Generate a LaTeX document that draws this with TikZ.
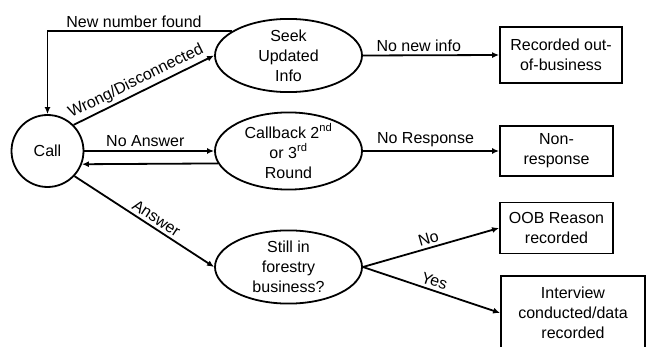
\documentclass[tikz,border=0pt]{standalone}
\usepackage{fontspec}
\setmainfont{Liberation Sans}
\usetikzlibrary{shapes.geometric,arrows.meta}
\begin{document}
\begin{tikzpicture}[x=1pt,y=-1pt,
  font=\fontsize{16}{20}\selectfont,
  line width=1.8pt,
  arr/.style={-{Latex[length=7pt,width=6pt]}},
  oval/.style={ellipse, draw, minimum width=147pt, minimum height=69pt, inner sep=0pt, align=center},
  box/.style={rectangle, draw, inner sep=0pt, align=center},
  lbl/.style={inner sep=3pt}]
\useasboundingbox (0,0) rectangle (647,347);
% nodes
\node[circle,draw,minimum size=72pt,inner sep=0pt] (call) at (47.5,151) {Call};
\node[oval] (seek) at (288.5,55.5) {Seek\\Updated\\Info};
\node[oval, minimum height=70pt] (cb) at (288.5,151) {Callback 2\textsuperscript{nd}\\or 3\textsuperscript{rd}\\Round};
\node[oval, minimum height=70pt] (still) at (288.5,267) {Still in\\forestry\\business?};
\node[box, minimum width=122pt, minimum height=56pt] (rec) at (561,55) {Recorded out-\\of-business};
\node[box, minimum width=113pt, minimum height=50pt] (nr) at (556.5,151) {Non-\\response};
\node[box, minimum width=113pt, minimum height=51pt] (oob) at (556.5,228) {OOB Reason\\recorded};
\node[box, minimum width=144pt, minimum height=74pt] (int) at (573,313) {Interview\\conducted/data\\recorded};
% connectors
\draw[arr] (seek.157) -| node[lbl, pos=0.265, above] (lnew) {New number found} (call.north);
\draw[arr] (call.45) -- node[lbl, pos=0.48, sloped, above] (lwrong) {Wrong/Disconnected} (seek.west);
\draw[arr] (call.east) -- node[lbl, pos=0.47, above] (lna) {No Answer} (cb.west);
\draw[arr] (cb.190) -- (call.-21);
\draw[arr] (call.-43) -- node[lbl, pos=0.55, sloped, above] (lans) {Answer} (still.west);
\draw[arr] (seek.east) -- node[lbl, pos=0.41, above] (lnni) {No new info} (rec.west);
\draw[arr] (cb.east) -- node[lbl, pos=0.46, above] (lnresp) {No Response} (nr.west);
\draw[arr] (still.east) -- node[lbl, pos=0.5, sloped, above] (lno) {No} (oob.west);
\draw[arr] (still.east) -- node[lbl, pos=0.5, sloped, above] (lyes) {Yes} (int.west);
\end{tikzpicture}
\end{document}
